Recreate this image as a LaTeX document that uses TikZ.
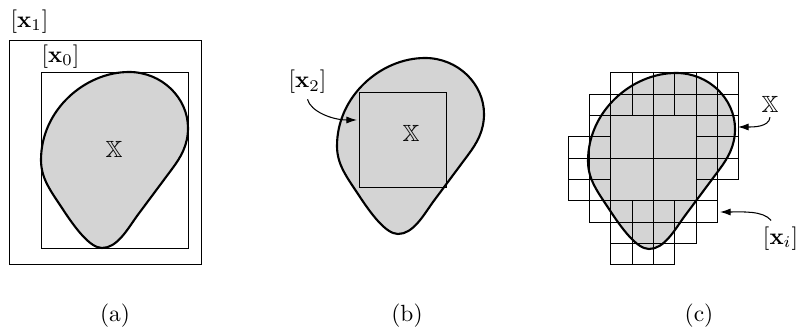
\documentclass[tikz,border=0pt]{standalone}
\usepackage{amsmath,amssymb}
\usetikzlibrary{arrows.meta}
\begin{document}
\begin{tikzpicture}[x=0.15mm,y=-0.15mm,
  blobfill/.style={fill=black!17},
  blobline/.style={draw=black,line width=0.9pt},
  boxline/.style={draw=black,line width=0.4pt},
  gridline/.style={draw=black,line width=0.42pt},
  lbl/.style={inner sep=0pt},
  arr/.style={draw=black,line width=0.45pt,-{Latex[length=4.5pt,width=3pt]}}]
\useasboundingbox (0,0) rectangle (800,331);
\def\blob{(129,72) .. controls (162,72) and (188,98) .. (188,128) .. controls (188,145) and (181,157) .. (172,169) -- (137,216) .. controls (127,230) and (117,248) .. (102,248) .. controls (90,248) and (75,228) .. (62,208) .. controls (50,190) and (41,178) .. (41,160) .. controls (41,110) and (85,72) .. (129,72) -- cycle}
% ---------- panel (a)
\draw[boxline] (9,40) rectangle (201,264);
\draw[boxline] (41,72) rectangle (188,248);
\fill[blobfill] \blob;
\draw[blobline] \blob;
\node[lbl] (l1) at (29.5,21.5) {$[\mathbf{x}_1]$};
\node[lbl] (l0) at (60.5,56.5) {$[\mathbf{x}_0]$};
\node[lbl] (Xa) at (114,149) {$\mathbb{X}$};
\node (capa) at (115,316) {(a)};
% ---------- panel (b)
\begin{scope}[shift={(296,-14)}]
  \fill[blobfill] \blob;
\end{scope}
\draw[gridline] (359,92) rectangle (446,187);
\begin{scope}[shift={(296,-14)}]
  \draw[blobline] \blob;
\end{scope}
\node[lbl] (l2) at (307.5,82) {$[\mathbf{x}_2]$};
\node[lbl] (Xb) at (411,133) {$\mathbb{X}$};
\coordinate (t2) at (357,120);
\draw[arr] ([yshift=-2.2pt]l2.south) .. controls +(3,12) and +(-25,0) .. (t2);
\node (capb) at (407,316) {(b)};
% ---------- panel (c)
\begin{scope}[shift={(547,1)}]
  \fill[blobfill] \blob;
\end{scope}
\begin{scope}[shift={(568.3,72.7)},x=3.2mm,y=-3.2mm]
  \draw[gridline]
    \foreach \r/\a/\b in {0/2/7,1/1/7,6/1/6,7/2/5,8/2/4}
      {\foreach \c in {\a,...,\b} {(\c,\r) rectangle +(1,1)}}
    \foreach \c/\r in {1/2,6/2,7/2,0/3,1/3,6/3,7/3,0/4,1/4,6/4,7/4,0/5,1/5,6/5}
      {(\c,\r) rectangle +(1,1)}
    \foreach \c/\r in {2/2,4/2,2/4,4/4}
      {(\c,\r) rectangle +(2,2)};
\end{scope}
\begin{scope}[shift={(547,1)}]
  \draw[blobline] \blob;
\end{scope}
\node[lbl] (Xc) at (770,104) {$\mathbb{X}$};
\node[lbl] (li) at (780.5,238.5) {$[\mathbf{x}_i]$};
\coordinate (tx) at (738,127);
\coordinate (ti) at (720,212);
\draw[arr] ([yshift=-2pt]Xc.south) .. controls +(-1,10) and +(15,0) .. (tx);
\draw[arr] ([yshift=2.5pt,xshift=-4pt]li.north) .. controls +(-8,-10) and +(22,0) .. (ti);
\node (capc) at (699,316) {(c)};
\end{tikzpicture}
\end{document}
